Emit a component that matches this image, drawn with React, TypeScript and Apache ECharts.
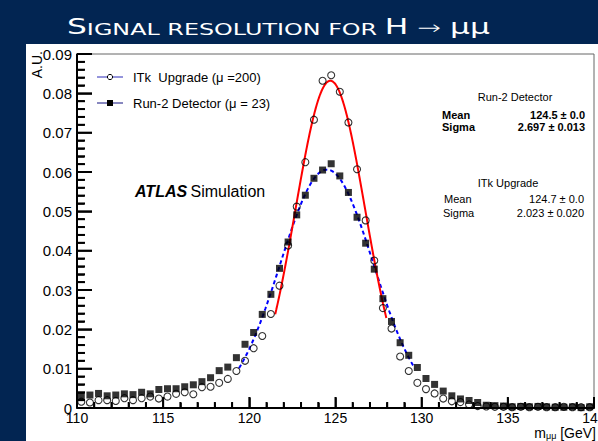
import React, { useEffect, useRef } from 'react';
import * as echarts from 'echarts';

// Histogram binning (GeV)
const BIN_LOW = 110;
const BIN_WIDTH = 0.5;

// ITk Upgrade (mu = 200), open circles
const itkValues = [
  0.0016, 0.0014, 0.0020, 0.0020, 0.0018, 0.0025, 0.0020, 0.0025, 0.0029, 0.0024,
  0.0029, 0.0036, 0.0040, 0.0035, 0.0053, 0.0054, 0.0064, 0.0074, 0.0094, 0.0120,
  0.0152, 0.0183, 0.0239, 0.0311, 0.0413, 0.0512, 0.0625, 0.0733, 0.0832, 0.0846,
  0.0804, 0.0726, 0.0607, 0.0477, 0.0375, 0.0254, 0.0202, 0.0131, 0.0094, 0.0064,
  0.0048, 0.0037, 0.0024, 0.0017, 0.0015, 0.0009, 0.0005, 0.0004, 0.0003, 0.0003,
  0.0002, 0.0003, 0.0002, 0.0003, 0.0002, 0.0002, 0.0003, 0.0002, 0.0002, 0.0002,
];

// Run-2 Detector (mu = 23), filled squares
const run2Values = [
  0.0031, 0.0033, 0.0037, 0.0031, 0.0033, 0.0036, 0.0034, 0.0040, 0.0036, 0.0047,
  0.0049, 0.0049, 0.0054, 0.0059, 0.0067, 0.0077, 0.0095, 0.0104, 0.0128, 0.0162,
  0.0192, 0.0238, 0.0289, 0.0355, 0.0422, 0.0491, 0.0541, 0.0584, 0.0605, 0.0621,
  0.0590, 0.0548, 0.0485, 0.0419, 0.0353, 0.0278, 0.0220, 0.0166, 0.0134, 0.0103,
  0.0075, 0.0060, 0.0043, 0.0031, 0.0023, 0.0019, 0.0014, 0.0007, 0.0006, 0.0005,
  0.0003, 0.0004, 0.0003, 0.0004, 0.0003, 0.0002, 0.0002, 0.0003, 0.0001, 0.0003,
];

// Gaussian fit results (as printed on the chart) and drawn ranges
const fitNames = ['ITk fit', 'Run-2 fit'];
const fitMeans = [124.7, 124.5];
const fitSigmas = [2.023, 2.697];
const fitPeaks = [0.0832, 0.0606];
const fitLow = [121.5, 119.4];
const fitHigh = [127.95, 129.6];

// Axis structure
const X_MIN = 110;
const X_MAX = 140;
const X_MAJOR = 5;
const X_MINOR = 1;
const Y_MIN = 0;
const Y_MAX = 0.09;
const Y_MAJOR = 0.01;
const Y_MINOR = 0.002;
const xTickLabels = ['110', '115', '120', '125', '130', '135', '140'];

const GRID = { left: 77, right: 4, top: 54, bottom: 33 };
const W = 598;
const H = 441;

const FONT = '"Liberation Sans", Arial, Helvetica, sans-serif';
const NAVY = '#022552';

function binned(values: number[]) {
  return values.map((v, i) => [BIN_LOW + BIN_WIDTH * (i + 0.5), v]);
}

function fitCurve(k: number) {
  const pts: number[][] = [];
  const n = 200;
  for (let i = 0; i <= n; i++) {
    const x = fitLow[k] + ((fitHigh[k] - fitLow[k]) * i) / n;
    const d = (x - fitMeans[k]) / fitSigmas[k];
    pts.push([x, fitPeaks[k] * Math.exp(-0.5 * d * d)]);
  }
  return pts;
}

function tickValues(min: number, max: number, step: number) {
  const out: number[] = [];
  const n = Math.round((max - min) / step);
  for (let i = 0; i <= n; i++) out.push(+(min + i * step).toFixed(6));
  return out;
}

function isMajor(v: number, min: number, step: number) {
  const r = (v - min) / step;
  return Math.abs(r - Math.round(r)) < 1e-6;
}

export default function App() {
  const ref = useRef<HTMLDivElement>(null);

  useEffect(() => {
    if (!ref.current) return;
    const chart = echarts.init(ref.current, undefined, { renderer: 'svg' });

    const statText = (text: string, x: number, y: number, align: string, bold = false) => ({
      type: 'text',
      x,
      y,
      z: 50,
      style: {
        text,
        font: `${bold ? 'bold ' : ''}11px ${FONT}`,
        fill: '#000',
        align,
        verticalAlign: 'middle',
      },
    });

    const baseGraphic: any[] = [
      { type: 'rect', silent: true, shape: { x: 0, y: 0, width: W, height: 44 }, style: { fill: NAVY } },
      { type: 'rect', silent: true, shape: { x: 0, y: 0, width: 26, height: H }, style: { fill: NAVY } },
      {
        type: 'text',
        x: 67,
        y: 37,
        scaleX: 1.49,
        z: 10,
        style: {
          text: '{big|S}{small|IGNAL RESOLUTION FOR }{big|H}{arr| → }{mu|μμ}',
          fill: '#fff',
          align: 'left',
          verticalAlign: 'bottom',
          rich: {
            big: { fontSize: 21, fontFamily: '"DejaVu Sans"', fill: '#fff', verticalAlign: 'bottom', lineHeight: 26 },
            small: { fontSize: 16, fontFamily: '"DejaVu Sans"', fill: '#fff', verticalAlign: 'bottom', lineHeight: 26 },
            arr: { fontSize: 19, fontFamily: '"DejaVu Sans"', fontWeight: 'lighter', fill: '#fff', verticalAlign: 'bottom', lineHeight: 26 },
            mu: { fontSize: 21, fontFamily: '"DejaVu Sans"', fill: '#fff', verticalAlign: 'bottom', lineHeight: 26 },
          },
        },
      },
      {
        type: 'text',
        x: 37,
        y: 51,
        rotation: Math.PI / 2,
        z: 10,
        style: { text: 'A.U.', font: `14px ${FONT}`, fill: '#000', align: 'right', verticalAlign: 'middle' },
      },
      {
        type: 'text',
        x: 596,
        y: 432,
        z: 10,
        style: {
          text: '{n|m}{s|μμ}{n| [GeV]}',
          align: 'right',
          verticalAlign: 'middle',
          rich: {
            n: { fontSize: 14, fontFamily: FONT, fill: '#000', verticalAlign: 'bottom', lineHeight: 16 },
            s: { fontSize: 9, fontFamily: FONT, fill: '#000', verticalAlign: 'bottom', lineHeight: 10 },
          },
        },
      },
      { type: 'line', z: 50, shape: { x1: 97, y1: 77, x2: 123, y2: 77 }, style: { stroke: '#2a2ab8', lineWidth: 1 } },
      { type: 'circle', z: 51, shape: { cx: 110, cy: 77, r: 2.6 }, style: { fill: '#fff', stroke: '#000', lineWidth: 1 } },
      {
        type: 'text', x: 133, y: 77, z: 50,
        style: { text: 'ITk  Upgrade (μ =200)', font: `13px ${FONT}`, fill: '#000', verticalAlign: 'middle' },
      },
      { type: 'line', z: 50, shape: { x1: 97, y1: 103, x2: 123, y2: 103 }, style: { stroke: '#101080', lineWidth: 1 } },
      { type: 'rect', z: 51, shape: { x: 107, y: 100, width: 6, height: 6 }, style: { fill: '#000' } },
      {
        type: 'text', x: 133, y: 103, z: 50,
        style: { text: 'Run-2 Detector (μ = 23)', font: `13px ${FONT}`, fill: '#000', verticalAlign: 'middle' },
      },
      {
        type: 'text', x: 135, y: 191, z: 50,
        style: {
          text: '{b|ATLAS} {n|Simulation}',
          verticalAlign: 'middle',
          rich: {
            b: { fontSize: 16, fontFamily: FONT, fontWeight: 'bold', fontStyle: 'italic', fill: '#000' },
            n: { fontSize: 16, fontFamily: FONT, fill: '#000' },
          },
        },
      },
      statText('Run-2 Detector', 515, 97, 'center'),
      statText('Mean', 442, 115, 'left', true),
      statText('124.5 ± 0.0', 585, 115, 'right', true),
      statText('Sigma', 442, 126.5, 'left', true),
      statText('2.697 ± 0.013', 585, 126.5, 'right', true),
      statText('ITk Upgrade', 508, 183, 'center'),
      statText('Mean', 444, 199, 'left'),
      statText('124.7 ± 0.0', 584, 199, 'right'),
      statText('Sigma', 443, 213, 'left'),
      statText('2.023 ± 0.020', 584, 213, 'right'),
    ];

    const option: any = {
      animation: false,
      backgroundColor: '#fff',
      grid: {
        ...GRID,
        show: true,
        borderColor: '#666',
        borderWidth: 1,
        backgroundColor: 'transparent',
        outerBoundsMode: 'none',
        containLabel: false,
      },
      xAxis: {
        type: 'value',
        min: X_MIN,
        max: X_MAX,
        interval: X_MAJOR,
        axisLine: { show: true, onZero: false, lineStyle: { color: '#000', width: 2 } },
        axisTick: { show: true, inside: true, length: 10.5, lineStyle: { color: '#000', width: 1.5 } },
        minorTick: { show: true, splitNumber: 5, length: 5.3, lineStyle: { color: '#000', width: 1.5 } },
        splitLine: { show: false },
        axisLabel: {
          color: '#000',
          fontSize: 14,
          fontFamily: FONT,
          margin: 3,
          showMaxLabel: true,
          formatter: (v: number) => xTickLabels[Math.round((v - X_MIN) / X_MAJOR)] ?? String(v),
        },
      },
      yAxis: {
        type: 'value',
        min: Y_MIN,
        max: Y_MAX,
        interval: Y_MAJOR,
        axisLine: { show: true, onZero: false, lineStyle: { color: '#000', width: 1.5 } },
        axisTick: { show: true, inside: true, length: 15, lineStyle: { color: '#000', width: 1.5 } },
        minorTick: { show: true, splitNumber: 5, length: 7.5, lineStyle: { color: '#000', width: 1.5 } },
        splitLine: { show: false },
        axisLabel: {
          color: '#000',
          fontSize: 15,
          fontFamily: FONT,
          margin: 5,
          formatter: (v: number) => (v === 0 ? '0' : v.toFixed(2)),
        },
      },
      series: [
        {
          name: fitNames[1],
          type: 'line',
          data: fitCurve(1),
          showSymbol: false,
          symbol: 'none',
          lineStyle: { color: '#0000ff', width: 2, type: [4, 3] },
          z: 3,
        },
        {
          name: fitNames[0],
          type: 'line',
          data: fitCurve(0),
          showSymbol: false,
          symbol: 'none',
          lineStyle: { color: '#ff0000', width: 2 },
          z: 3,
        },
        {
          name: 'ITk Upgrade',
          type: 'scatter',
          data: binned(itkValues),
          symbol: 'circle',
          symbolSize: 7,
          itemStyle: { color: 'rgba(255,255,255,0)', borderColor: '#000', borderWidth: 1.1 },
          z: 4,
        },
        {
          name: 'Run-2 Detector',
          type: 'scatter',
          data: binned(run2Values),
          symbol: 'rect',
          symbolSize: 7,
          itemStyle: { color: '#000' },
          z: 5,
        },
      ],
      graphic: baseGraphic,
    };

    chart.setOption(option);

    const plotW = W - GRID.left - GRID.right;
    const plotH = H - GRID.top - GRID.bottom;
    const toPx = (x: number, y: number) => {
      let p: any = null;
      try {
        p = chart.convertToPixel({ gridIndex: 0 }, [x, y]);
      } catch (e) {
        p = null;
      }
      if (!p || !isFinite(p[0]) || !isFinite(p[1])) {
        p = [
          GRID.left + ((x - X_MIN) / (X_MAX - X_MIN)) * plotW,
          GRID.top + plotH - ((y - Y_MIN) / (Y_MAX - Y_MIN)) * plotH,
        ];
      }
      return p as number[];
    };

    const tickGraphic: any[] = [];
    tickValues(X_MIN, X_MAX, X_MINOR).forEach((v) => {
      const p = toPx(v, Y_MIN);
      const len = isMajor(v, X_MIN, X_MAJOR) ? 11 : 6;
      tickGraphic.push({
        type: 'rect', z: 60, silent: true,
        shape: { x: p[0] - 1, y: p[1] - len, width: 2, height: len },
        style: { fill: '#000' },
      });
    });
    tickValues(Y_MIN, Y_MAX, Y_MINOR).forEach((v) => {
      const p = toPx(X_MIN, v);
      const len = isMajor(v, Y_MIN, Y_MAJOR) ? 15 : 8;
      tickGraphic.push({
        type: 'rect', z: 60, silent: true,
        shape: { x: p[0], y: p[1] - 1, width: len, height: 2 },
        style: { fill: '#000' },
      });
    });
    const o = toPx(X_MIN, Y_MIN);
    const xe = toPx(X_MAX, Y_MIN);
    const ye = toPx(X_MIN, Y_MAX);
    tickGraphic.push(
      { type: 'rect', z: 60, silent: true, shape: { x: o[0], y: o[1] - 1, width: xe[0] - o[0], height: 2 }, style: { fill: '#000' } },
      { type: 'rect', z: 60, silent: true, shape: { x: o[0] - 1, y: ye[1], width: 2, height: o[1] - ye[1] }, style: { fill: '#000' } },
    );

    chart.setOption({ graphic: [...baseGraphic, ...tickGraphic] });

    return () => chart.dispose();
  }, []);

  return (
    <div
      ref={ref}
      style={{ position: 'absolute', left: 0, top: 0, width: W, height: H }}
    />
  );
}
